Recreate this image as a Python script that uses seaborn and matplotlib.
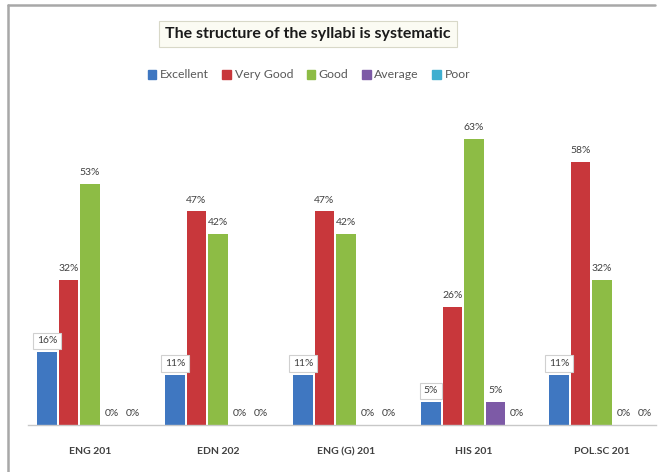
import matplotlib
matplotlib.use('Agg')
import matplotlib.pyplot as plt
import matplotlib.patches as mpatches
from matplotlib.lines import Line2D
import seaborn as sns
import pandas as pd

courses = ['ENG 201', 'EDN 202', 'ENG (G) 201', 'HIS 201', 'POL.SC 201']
ratings = ['Excellent', 'Very Good', 'Good', 'Average', 'Poor']
excellent = [16, 11, 11, 5, 11]
very_good = [32, 47, 47, 26, 58]
good = [53, 42, 42, 63, 32]
average = [0, 0, 0, 5, 0]
poor = [0, 0, 0, 0, 0]
colors = ['#3F77C1', '#C8373B', '#8DBC45', '#7D5AA6', '#3FAFD0']

# long form table for seaborn
rows = []
for r, vals in zip(ratings, [excellent, very_good, good, average, poor]):
    for c, v in zip(courses, vals):
        rows.append({'course': c, 'rating': r, 'value': v})
df = pd.DataFrame(rows)

sns.set_style('white')
plt.rcParams['font.family'] = ['Lato', 'DejaVu Sans']

W, H = 658, 472
fig = plt.figure(figsize=(W / 100, H / 100), dpi=100)
ax = fig.add_axes([28 / W, (H - 425) / H, 628 / W, 318 / H])

sns.barplot(data=df, x='course', y='value', hue='rating', order=courses,
            hue_order=ratings, palette=colors, saturation=1, width=0.84, gap=0.08,
            linewidth=0, ax=ax, legend=False)

ax.set_ylim(0, 70)
ax.set_xlim(-0.484, -0.484 + 628 / 128)
ax.set_xlabel('')
ax.set_ylabel('')
ax.set_yticks([])
ax.tick_params(axis='x', length=0, pad=16)
for lab in ax.get_xticklabels():
    lab.set_fontsize(7.5)
    lab.set_fontweight('bold')
    lab.set_color('#404040')
sns.despine(ax=ax, left=True, right=True, top=True)
ax.spines['bottom'].set_color('#c8c8c8')
ax.spines['bottom'].set_linewidth(1)

# data labels
for i, cont in enumerate(ax.containers):
    if i == 0:
        ax.bar_label(cont, fmt='%d%%', padding=5, fontsize=7.5, color='#404040',
                     bbox=dict(boxstyle='square,pad=0.35', fc='white',
                               ec='#d0d0d0', lw=0.8))
    else:
        ax.bar_label(cont, fmt='%d%%', padding=5, fontsize=7.5, color='#404040',
                     bbox=dict(boxstyle='square,pad=0.1', fc='white', ec='none'))

# title box
fig.text(308 / W, 1 - 34 / H, 'The structure of the syllabi is systematic',
         ha='center', va='center', fontsize=11.5, fontweight='bold', color='#1a1a1a',
         bbox=dict(boxstyle='square,pad=0.4', fc='#fbfbf3', ec='#d8d8c8', lw=0.8))

# legend
handles = [mpatches.Patch(color=c, label=r) for c, r in zip(colors, ratings)]
fig.legend(handles=handles, loc='center', bbox_to_anchor=(309 / W, 1 - 75 / H),
           ncol=5, frameon=False, fontsize=8.8, handlelength=0.7, handleheight=0.7,
           handletextpad=0.3, columnspacing=1.1, labelcolor='#595959')

# chart border (left and top only, the rest is cropped away)
fig.add_artist(Line2D([8 / W, 8 / W], [0, 1 - 5 / H], transform=fig.transFigure,
                      color='#a8a8a8', lw=1.8))
fig.add_artist(Line2D([8 / W, 655 / W], [1 - 5 / H, 1 - 5 / H], transform=fig.transFigure,
                      color='#a8a8a8', lw=1.8))

fig.savefig('out.png', dpi=100)
